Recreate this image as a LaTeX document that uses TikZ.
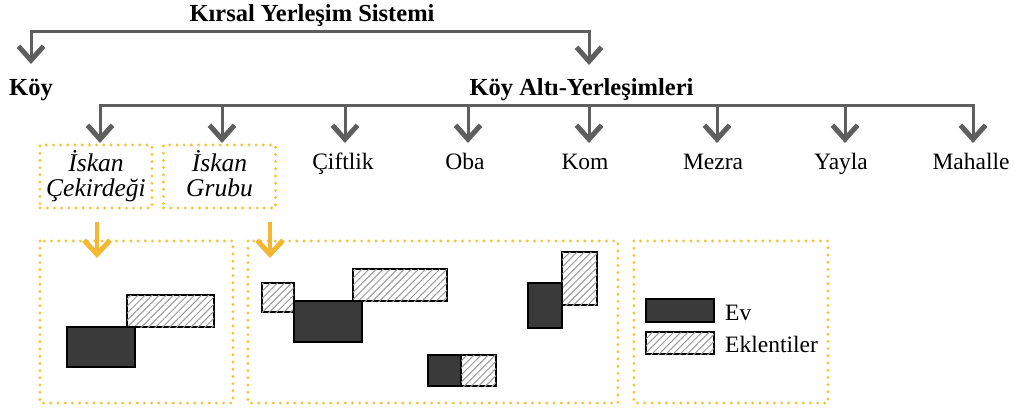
\documentclass[tikz,border=0pt]{standalone}
\usepackage{fontspec}
\setmainfont{Liberation Serif}
\usetikzlibrary{arrows.meta,patterns.meta}
\definecolor{garr}{HTML}{5E5E5E}
\definecolor{yarr}{HTML}{F3B733}
\definecolor{ydot}{HTML}{F2C438}
\definecolor{darkfill}{HTML}{3A3A3A}
\tikzset{
  gl/.style={draw=garr, line width=3pt, line cap=rect},
  ga/.style={draw=garr, line width=3pt, -{Straight Barb[length=14pt 0,width=25pt 0,line width=5pt 0]}},
  ya/.style={draw=yarr, line width=4pt, -{Straight Barb[length=14pt 0,width=26pt 0,line width=5pt 0]}},
  dotbox/.style={draw=ydot, line width=3.2pt, dash pattern=on 0pt off 7.2pt, line cap=round},
  lbl/.style={font=\fontsize{23.5}{28}\selectfont, inner sep=0pt, anchor=base},
  blbl/.style={font=\fontsize{24.5}{28}\selectfont\bfseries, inner sep=0pt, anchor=base},
  ilbl/.style={font=\fontsize{25.5}{25}\selectfont\itshape, align=center, inner sep=0pt, dotbox, minimum height=63pt},
  ev/.style={draw=black, line width=1.5pt, fill=darkfill},
  ekl/.style={draw=black, line width=1.5pt, fill=white, postaction={pattern={Lines[angle=45,distance=5pt,line width=1pt]}, pattern color=gray!80}},
}
\begin{document}
\begin{tikzpicture}[x=1pt,y=-1pt]
\useasboundingbox (0,0) rectangle (1019,412);
% level 1
\node[blbl] (root) at (312,22) {Kırsal Yerleşim Sistemi};
\node[blbl] (koy) at (31,95) {Köy};
\node[blbl] (alt) at (581.5,95) {Köy Altı-Yerleşimleri};
\coordinate (h1L) at (31,32);
\coordinate (h1R) at (589,32);
\coordinate (t1L) at (31,64);
\coordinate (t1R) at (589,65);
\draw[gl] (h1L) -- (h1R);
\draw[ga] (h1L) -- (t1L);
\draw[ga] (h1R) -- (t1R);
% level 2
\coordinate (h2L) at (100,105);
\coordinate (h2R) at (973,105);
\draw[gl] (h2L) -- (h2R);
\foreach \x/\n in {100/1,222/2,345/3,468/4,589/5,717/6,845/7,973/8}{
  \coordinate (a\n) at (\x,105);
  \coordinate (t\n) at (\x,143);
  \draw[ga] (a\n) -- (t\n);
}
\node[ilbl, minimum width=112pt] (isk1) at (96,176.5) {İskan\\Çekirdeği};
\node[ilbl, minimum width=112pt] (isk2) at (219.5,176.5) {İskan\\Grubu\vphantom{ğ}};
\node[lbl] (cif) at (343,169) {Çiftlik};
\node[lbl] (oba) at (465,169) {Oba};
\node[lbl] (kom) at (585,169) {Kom};
\node[lbl] (mez) at (713,169) {Mezra};
\node[lbl] (yay) at (841,169) {Yayla};
\node[lbl] (mah) at (971,169) {Mahalle};
% big boxes
\draw[dotbox] (40,241) rectangle (233,403);
\draw[dotbox] (248,241) rectangle (618,403);
\draw[dotbox] (634,241) rectangle (828,403);
% yellow arrows
\coordinate (y1s) at (97,222);
\coordinate (y1e) at (97,258);
\coordinate (y2s) at (270,222);
\coordinate (y2e) at (270,258);
\draw[ya] (y1s) -- (y1e);
\draw[ya] (y2s) -- (y2e);
% box 1
\draw[ekl] (127,295) rectangle (214,327);
\draw[ev] (67,327) rectangle (135,367);
% box 2
\draw[ekl] (262,283) rectangle (294,312);
\draw[ekl] (353,269) rectangle (447,301);
\draw[ev] (294,301) rectangle (362,342);
\draw[ev] (428,355) rectangle (461,386);
\draw[ekl] (461,355) rectangle (496,386);
\draw[ekl] (562,252) rectangle (597,305);
\draw[ev] (528,283) rectangle (562,328);
% legend
\draw[ev] (646,299) rectangle (714,322);
\draw[ekl] (646,332) rectangle (714,354);
\node[lbl, anchor=base west] (lev) at (725,320) {Ev};
\node[lbl, anchor=base west] (lekl) at (725,352) {Eklentiler};
\end{tikzpicture}
\end{document}
